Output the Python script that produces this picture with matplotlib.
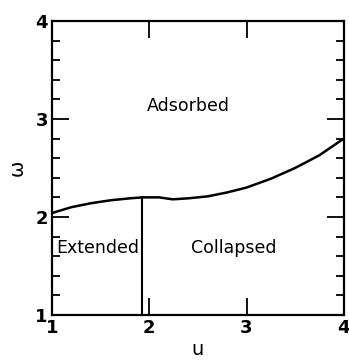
import matplotlib
matplotlib.use("Agg")
import matplotlib.pyplot as plt
from matplotlib.ticker import MultipleLocator

# phase boundary
u_boundary = [1.0, 1.2, 1.4, 1.6, 1.8, 1.93, 2.1, 2.24, 2.4, 2.6, 2.8, 3.0, 3.25, 3.5, 3.75, 4.0]
w_boundary = [2.04, 2.10, 2.14, 2.17, 2.19, 2.20, 2.20, 2.18, 2.19, 2.21, 2.25, 2.30, 2.39, 2.50, 2.63, 2.80]

# extended / collapsed separator
u_sep = [1.93, 1.93]
w_sep = [1.0, 2.20]

region_labels = ["Adsorbed", "Extended", "Collapsed"]
region_u = [2.40, 1.04, 2.87]
region_w = [3.13, 1.68, 1.68]
region_ha = ["center", "left", "center"]

fig = plt.figure(figsize=(3.49, 3.62), dpi=100)
ax = fig.add_axes([0.149, 0.130, 0.836, 0.812])

ax.plot(u_boundary, w_boundary, color="black", lw=1.8)
ax.plot(u_sep, w_sep, color="black", lw=1.5)

for lab, x, y, ha in zip(region_labels, region_u, region_w, region_ha):
    ax.text(x, y, lab, ha=ha, va="center", fontsize=12.5)

ax.set_xlim(1, 4)
ax.set_ylim(1, 4)
ax.set_xticks([1, 2, 3, 4])
ax.set_yticks([1, 2, 3, 4])
ax.yaxis.set_minor_locator(MultipleLocator(0.2))

ax.tick_params(which="both", direction="in", top=True, right=True, width=1.3)
ax.tick_params(which="major", length=12, labelsize=13, pad=3)
ax.tick_params(which="minor", length=6)
for lab in ax.get_xticklabels() + ax.get_yticklabels():
    lab.set_fontweight("bold")
for s in ax.spines.values():
    s.set_linewidth(1.6)

ax.set_xlabel("u", fontsize=14, labelpad=2)
ax.set_ylabel("ω", fontsize=14, labelpad=6)

fig.savefig("out.png", dpi=100)
